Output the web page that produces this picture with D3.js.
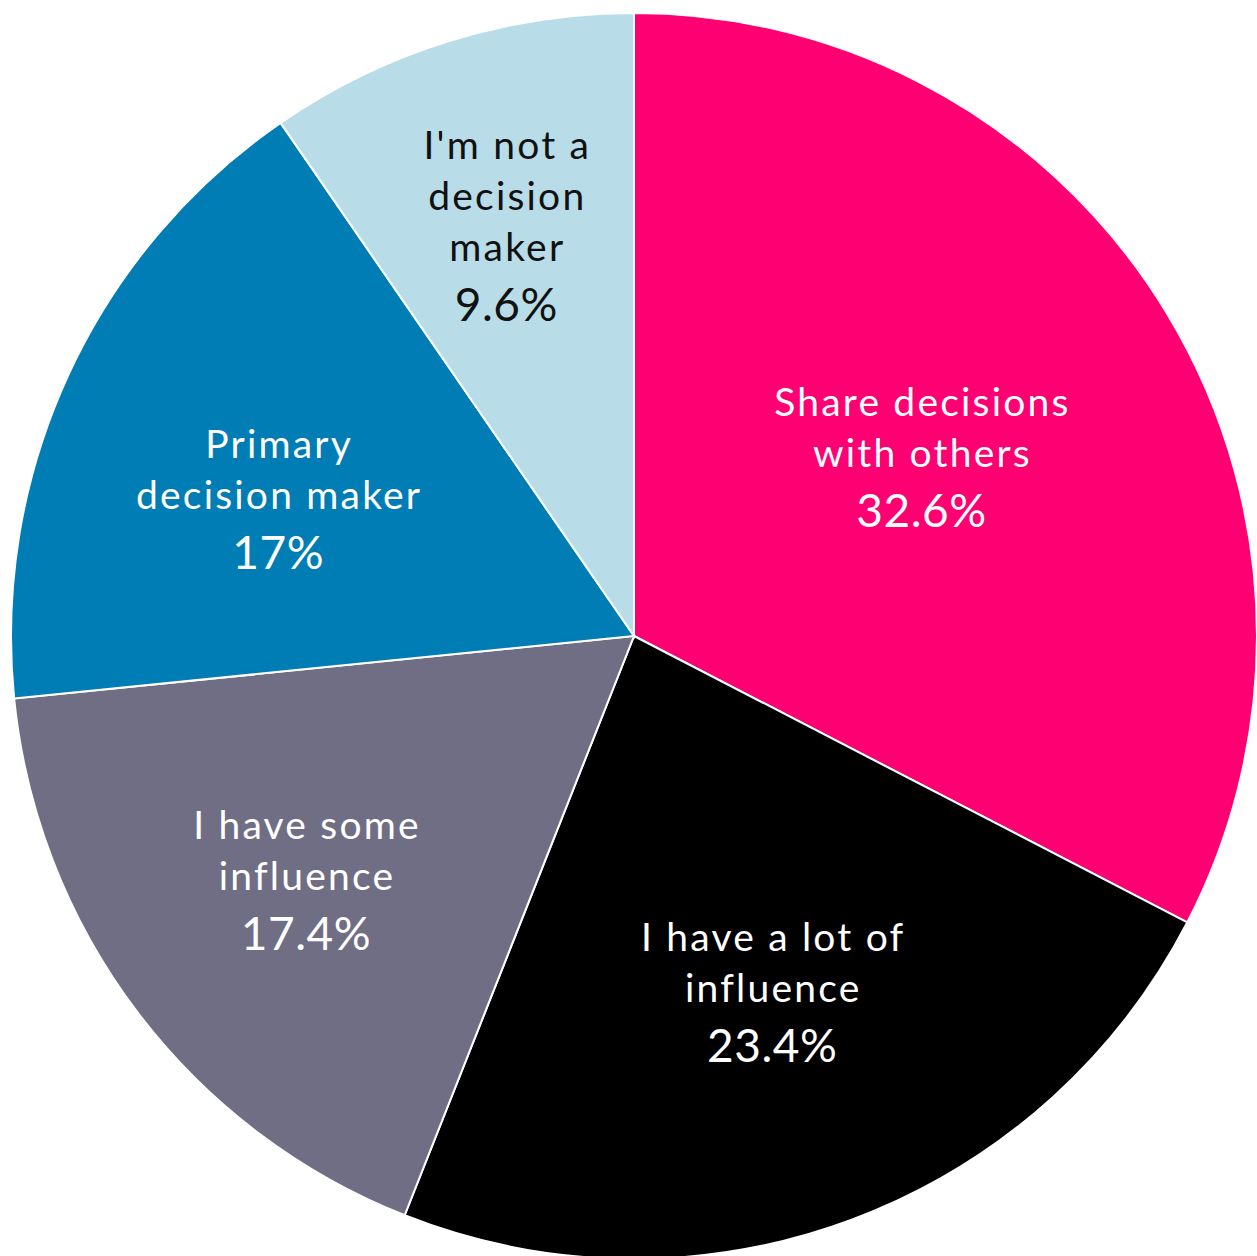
<!DOCTYPE html>
<html lang="en">
  <head>
    <meta charset="utf-8">
    <title>Decision makers</title>
    <style>
      body { margin: 0; background: #fff; }
      svg { display: block; }
      text { font-family: Lato, "Open Sans", sans-serif; }
    </style>
  </head>
  <body>
    <svg></svg>
    <script src="https://d3js.org/d3.v7.min.js"></script>
    <script>
      // data
      var categories = ["Share decisions with others", "I have a lot of influence", "I have some influence", "Primary decision maker", "I'm not a decision maker"];
      var labelLines = [["Share decisions", "with others"], ["I have a lot of", "influence"], ["I have some", "influence"], ["Primary", "decision maker"], ["I'm not a", "decision", "maker"]];
      var values = [32.6, 23.4, 17.4, 17, 9.6];
      var colors = ["#FF0073", "#000000", "#706E85", "#007DB5", "#B8DDE8"];
      var textColors = ["#fff", "#fff", "#fff", "#fff", "#111"];

      // label placement: fraction of radius, then a small nudge
      var labelRadius = [0.54, 0.61, 0.66, 0.61, 0.69];
      var nudge = [[0, -6], [5, -2], [0, -6], [-11, 21], [0, -2]];

      var width = 1257, height = 1256;
      var cx = 634, cy = 636, radius = 623;

      var svg = d3.select('svg')
          .attr('width', width)
          .attr('height', height);

      var g = svg.append('g').attr('transform', 'translate(' + cx + ',' + cy + ')');

      var pie = d3.pie().sort(null).value(function(d) { return d; });
      var arcs = pie(values);

      var arc = d3.arc().innerRadius(0).outerRadius(radius);

      g.selectAll('path')
        .data(arcs)
        .enter()
        .append('path')
        .attr('d', arc)
        .attr('fill', function(d, i) { return colors[i]; })
        .attr('stroke', '#fff')
        .attr('stroke-width', 2);

      var labels = g.selectAll('g.label')
        .data(arcs)
        .enter()
        .append('g')
        .attr('class', 'label')
        .attr('transform', function(d, i) {
          var r = radius * labelRadius[i];
          var c = d3.arc().innerRadius(r).outerRadius(r).centroid(d);
          return 'translate(' + (c[0] + nudge[i][0]) + ',' + (c[1] + nudge[i][1]) + ')';
        });

      labels.each(function(d, i) {
        var el = d3.select(this);
        var lines = labelLines[i];
        var lineH = 51;
        var total = lines.length * lineH + 54;
        var y0 = -total / 2;
        lines.forEach(function(line, j) {
          el.append('text')
            .attr('text-anchor', 'middle')
            .attr('x', 1)
            .attr('y', y0 + (j + 1) * lineH - 12)
            .attr('fill', textColors[i])
            .style('font-size', '39px')
            .style('letter-spacing', '2.2px')
            .text(line);
        });
        el.append('text')
          .attr('text-anchor', 'middle')
          .attr('y', y0 + lines.length * lineH + 48)
          .attr('fill', textColors[i])
          .style('font-size', '46px')
          .style('letter-spacing', '0.5px')
          .text(d3.format('')(values[i]) + '%');
      });
    </script>
  </body>
</html>
